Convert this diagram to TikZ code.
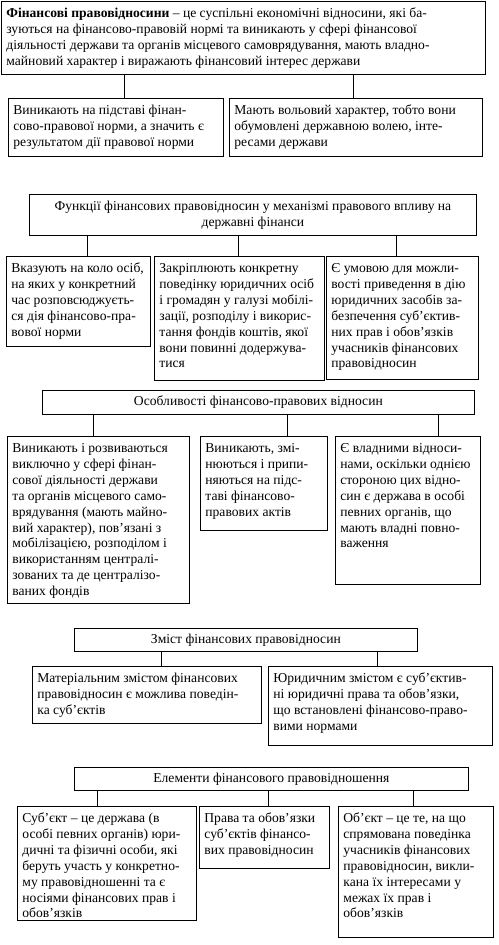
\documentclass[tikz,border=0pt]{standalone}
\usepackage{fontspec}
\setmainfont{Liberation Serif}
\usetikzlibrary{positioning}

% text of a box, set from its top edge
\newcommand{\celltext}[3]{\parbox[t][\dimexpr#2pt-10pt\relax][t]{\dimexpr#1pt-9pt\relax}{\raggedright\strut #3}}

\begin{document}
\begin{tikzpicture}[
    x=1pt, y=-1pt,
    font=\fontsize{13.6}{15.9}\selectfont,
    cell/.style={draw, line width=0.8pt, anchor=north west, inner xsep=5pt, inner ysep=5pt},
    head/.style={draw, line width=0.8pt, anchor=north west, inner sep=2pt, align=center},
    link/.style={line width=0.8pt}
]
    \useasboundingbox (0,0) rectangle (498,945);

    % definition
    \node[cell] (def) at (1,1) {\celltext{483}{73}{\textbf{Фінансові правовідносини} – це суспільні економічні відносини, які ба-\\зуються на фінансово-правовій нормі та виникають у сфері фінансової\\діяльності держави та органів місцевого самоврядування, мають владно-\\майновий характер і виражають фінансовий інтерес держави}};
    \node[cell] (norm) at (8,98) {\celltext{214}{58}{Виникають на підставі фінан-\\сово-правової норми, а значить є\\результатом дії правової норми}};
    \node[cell] (will) at (229,98) {\celltext{252}{58}{Мають вольовий характер, тобто вони\\обумовлені державною волею, інте-\\ресами держави}};

    % functions
    \node[head, minimum width=447, minimum height=41] (func) at (29,194) {Функції фінансових правовідносин у механізмі правового впливу на\\державні фінанси};
    \node[cell] (persons) at (6,256) {\celltext{143}{90}{Вказують на коло осіб,\\на яких у конкретний\\час розповсюджуєть-\\ся дія фінансово-пра-\\вової норми}};
    \node[cell] (conduct) at (154,256) {\celltext{169}{124}{Закріплюють конкретну\\поведінку юридичних осіб\\і громадян у галузі мобілі-\\зації, розподілу і викорис-\\тання фондів коштів, якої\\вони повинні додержува-\\тися}};
    \node[cell] (means) at (326,256) {\celltext{151}{123}{Є умовою для можли-\\вості приведення в дію\\юридичних засобів за-\\безпечення суб’єктив-\\них прав і обов’язків\\учасників фінансових\\правовідносин}};

    % features
    \node[head, minimum width=432, minimum height=24] (feat) at (42,390) {Особливості фінансово-правових відносин};
    \node[cell] (sphere) at (7,436) {\celltext{181}{167}{Виникають і розвиваються\\виключно у сфері фінан-\\сової діяльності держави\\та органів місцевого само-\\врядування (мають майно-\\вий характер), пов’язані з\\мобілізацією, розподілом і\\використанням централі-\\зованих та де централізо-\\ваних фондів}};
    \node[cell] (acts) at (200,436) {\celltext{126}{94}{Виникають, змі-\\нюються і припи-\\няються на підс-\\таві фінансово-\\правових актів}};
    \node[cell] (power) at (335,436) {\celltext{144}{148}{Є владними відноси-\\нами, оскільки однією\\стороною цих відно-\\син є держава в особі\\певних органів, що\\мають владні повно-\\важення}};

    % content
    \node[head, minimum width=343, minimum height=23] (cont) at (74,628) {Зміст фінансових правовідносин};
    \node[cell] (material) at (32,666) {\celltext{228}{57}{Матеріальним змістом фінансових\\правовідносин є можлива поведін-\\ка суб’єктів}};
    \node[cell] (legal) at (268,666) {\celltext{223}{79}{Юридичним змістом є суб’єктив-\\ні юридичні права та обов’язки,\\що встановлені фінансово-право-\\вими нормами}};

    % elements
    \node[head, minimum width=394, minimum height=23] (elem) at (74,767) {Елементи фінансового правовідношення};
    \node[cell] (subject) at (17,806) {\celltext{178}{114}{Суб’єкт – це держава (в\\особі певних органів) юри-\\дичні та фізичні особи, які\\беруть участь у конкретно-\\му правовідношенні та є\\носіями фінансових прав і\\обов’язків}};
    \node[cell] (rights) at (199,806) {\celltext{129}{62}{Права та обов’язки\\суб’єктів фінансо-\\вих правовідносин}};
    \node[cell] (object) at (338,806) {\celltext{154}{131}{Об’єкт – це те, на що\\спрямована поведінка\\учасників фінансових\\правовідносин, викли-\\кана їх інтересами у\\межах їх прав і\\обов’язків}};

    \draw[link] (def.south -| 124,0) -- (norm.north -| 124,0);
    \draw[link] (def.south -| 353,0) -- (will.north -| 353,0);
    \draw[link] (func.south -| 87,0) -- (persons.north -| 87,0);
    \draw[link] (func.south -| 238,0) -- (conduct.north -| 238,0);
    \draw[link] (func.south -| 396,0) -- (means.north -| 396,0);
    \draw[link] (feat.south -| 93,0) -- (sphere.north -| 93,0);
    \draw[link] (feat.south -| 287,0) -- (acts.north -| 287,0);
    \draw[link] (feat.south -| 438,0) -- (power.north -| 438,0);
    \draw[link] (cont.south -| 161,0) -- (material.north -| 161,0);
    \draw[link] (cont.south -| 377,0) -- (legal.north -| 377,0);
    \draw[link] (elem.south -| 97,0) -- (subject.north -| 97,0);
    \draw[link] (elem.south -| 268,0) -- (rights.north -| 268,0);
    \draw[link] (elem.south -| 413,0) -- (object.north -| 413,0);
\end{tikzpicture}
\end{document}
